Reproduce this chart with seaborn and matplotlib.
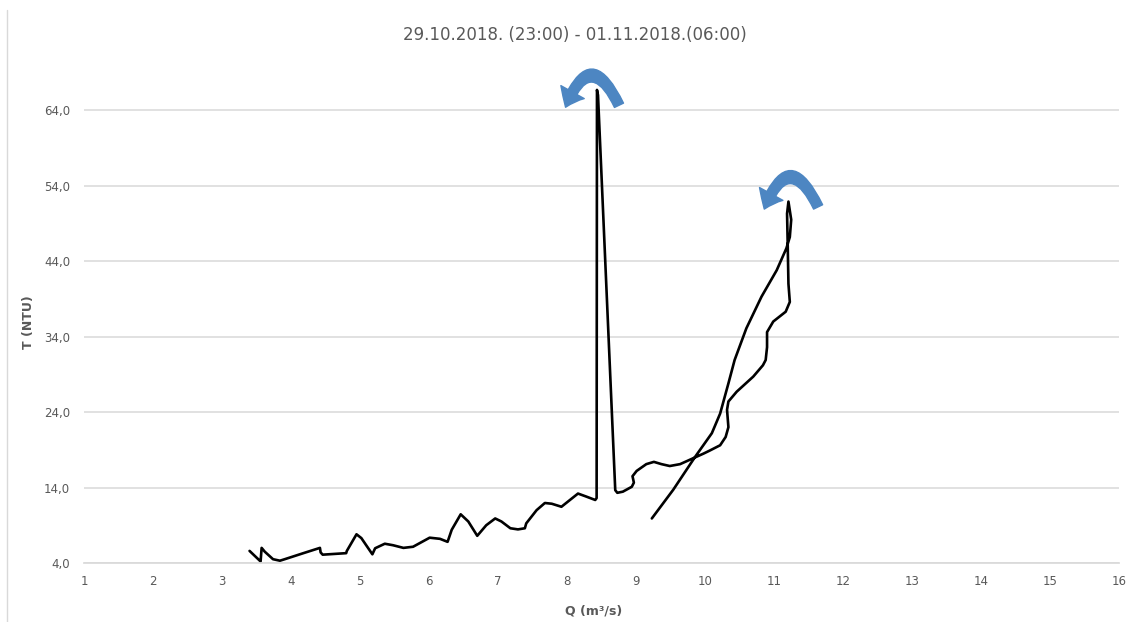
import numpy as np
import pandas as pd
import matplotlib
matplotlib.use("Agg")
import matplotlib.pyplot as plt
from matplotlib.lines import Line2D
from matplotlib.patches import FancyArrowPatch
import seaborn as sns

# Q (m3/s) and T (NTU), in drawing order
q_vals = [3.40, 3.56, 3.575, 3.62, 3.74, 3.84, 3.91, 4.18, 4.42, 4.43, 4.46, 4.80,
          4.81, 4.95, 5.02, 5.18, 5.22, 5.36, 5.48, 5.63, 5.77, 6.01, 6.16, 6.27,
          6.33, 6.46, 6.57, 6.70, 6.83, 6.96, 7.05, 7.18, 7.29, 7.39, 7.41, 7.56,
          7.68, 7.78, 7.92, 8.16, 8.28, 8.41, 8.43, 8.435, 8.45, 8.70, 8.73, 8.81,
          8.94, 8.97, 8.95, 9.01, 9.15, 9.26, 9.37, 9.49, 9.64, 9.81, 9.98, 10.07,
          10.22, 10.30, 10.34, 10.32, 10.34, 10.46, 10.70, 10.84, 10.88, 10.90, 10.90,
          10.99, 11.17, 11.23, 11.21, 11.20, 11.19, 11.21, 11.25, 11.23, 11.18, 11.04,
          10.82, 10.60, 10.43, 10.34, 10.22, 10.10, 9.86, 9.54, 9.23]
t_vals = [5.6, 4.2, 6.0, 5.5, 4.5, 4.3, 4.5, 5.3, 6.0, 5.4, 5.1, 5.3,
          5.6, 7.8, 7.3, 5.15, 5.95, 6.55, 6.35, 6.0, 6.15, 7.35, 7.2, 6.8,
          8.4, 10.45, 9.5, 7.6, 9.0, 9.9, 9.5, 8.6, 8.45, 8.6, 9.25, 11.0,
          11.95, 11.85, 11.45, 13.2, 12.8, 12.35, 12.6, 66.7, 66.0, 13.65, 13.3, 13.45,
          14.1, 14.65, 15.5, 16.2, 17.1, 17.4, 17.1, 16.85, 17.1, 17.8, 18.5, 18.9,
          19.6, 20.7, 22.0, 24.3, 25.4, 26.7, 28.7, 30.2, 30.9, 32.6, 34.6,
          36.0, 37.3, 38.6, 41.0, 45.9, 50.3, 51.9, 49.5, 47.2, 45.7, 42.8,
          39.3, 35.1, 30.9, 27.8, 23.8, 21.2, 18.1, 13.7, 9.9]

y_ticks = [4, 14, 24, 34, 44, 54, 64]
x_ticks = list(range(1, 17))
title = "29.10.2018. (23:00) - 01.11.2018.(06:00)"

df = pd.DataFrame({"Q": q_vals, "T": t_vals})

sns.set_theme(style="white")
plt.rcParams["font.family"] = ["Liberation Sans Narrow", "DejaVu Sans"]

fig = plt.figure(figsize=(11.33, 6.22), dpi=100)
ax = fig.add_axes([0.0741, 0.0949, 0.9135, 0.8006])

grey = "#d9d9d9"
txt = "#595959"

ax.set_xlim(1, 16)
ax.set_ylim(4, 70)
ax.set_yticks(y_ticks)
ax.set_yticklabels([f"{v:.1f}".replace(".", ",") for v in y_ticks])
ax.set_xticks(x_ticks)
ax.set_xticklabels([str(v) for v in x_ticks])
for v in y_ticks:
    ax.axhline(v, color=grey, lw=1.1, zorder=0)

sns.lineplot(data=df, x="Q", y="T", sort=False, estimator=None, color="black",
             lw=1.9, ax=ax, solid_joinstyle="round", solid_capstyle="round")

for side in ["top", "right", "left"]:
    ax.spines[side].set_visible(False)
ax.spines["bottom"].set_color(grey)
ax.tick_params(axis="both", length=0, labelsize=8.5, colors=txt)
ax.tick_params(axis="x", pad=9)
ax.tick_params(axis="y", pad=10)

ax.set_xlabel("Q (m³/s)", fontsize=9, fontweight="bold", color=txt)
ax.set_ylabel("T (NTU)", fontsize=9, fontweight="bold", color=txt)
ax.xaxis.set_label_coords(0.492, -0.084)
ax.yaxis.set_label_coords(-0.047, 0.484)

ax.text(0.474, 1.06, title, transform=ax.transAxes, ha="center", va="center",
        fontsize=12, color=txt)

# curved arrows marking the loop direction
for tail, tip in [((8.754, 64.66), (7.98, 64.4)), ((11.64, 51.19), (10.86, 50.9))]:
    arr = FancyArrowPatch(tail, tip, connectionstyle="arc3,rad=1.15",
                          arrowstyle="simple,head_width=1.6,head_length=1.0,tail_width=0.6",
                          mutation_scale=12, color="#4d86c2", shrinkA=0, shrinkB=0,
                          clip_on=False, zorder=5)
    ax.add_patch(arr)

fig.add_artist(Line2D([7 / 1133, 7 / 1133], [0, 1 - 10 / 622], transform=fig.transFigure,
                      color=grey, lw=1))

fig.savefig("out.png", dpi=100)
